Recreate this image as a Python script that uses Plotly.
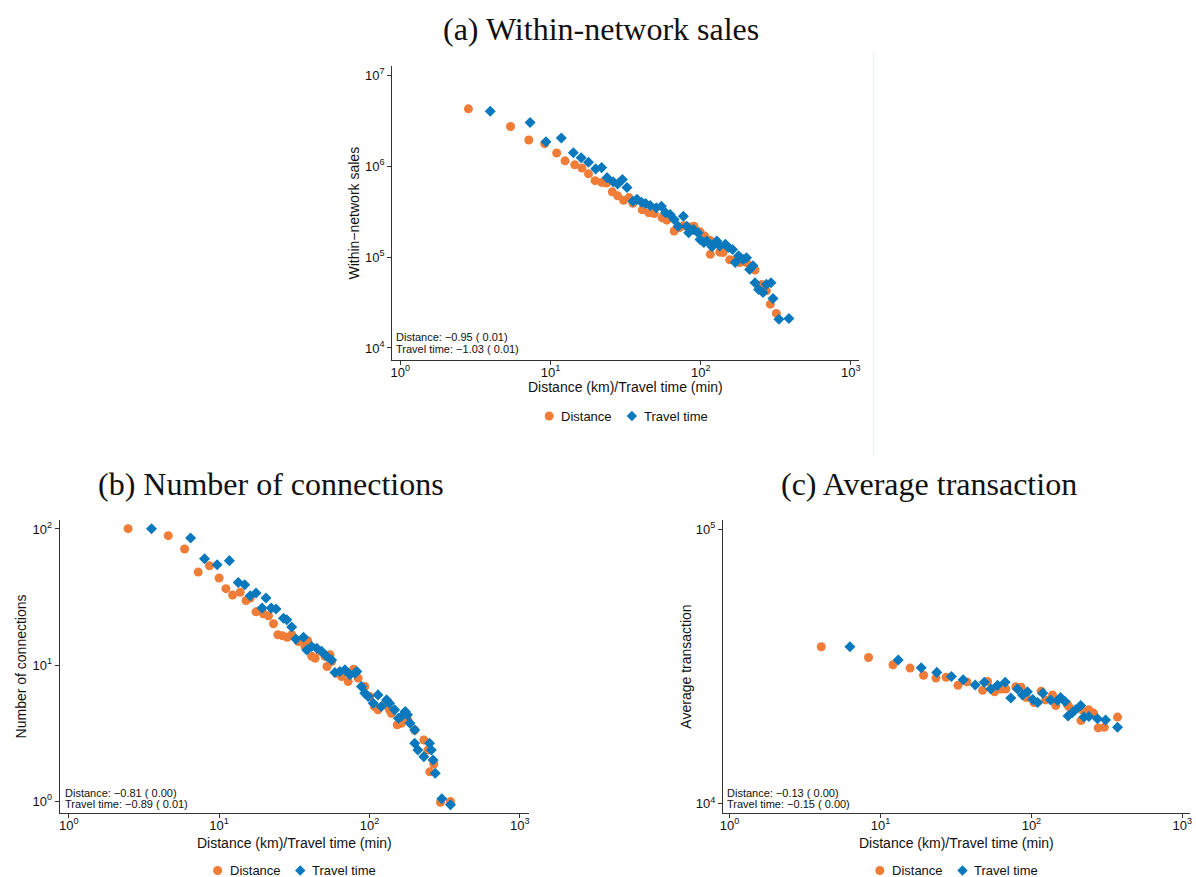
import plotly.graph_objects as go

W, H = 1196, 877

ORANGE = "#EF7D38"
BLUE = "#0A78BC"
AXIS = "#333333"

# (a) Within-network sales
sales_dist_km = [2.84, 5.42, 7.17, 9.15, 11.0, 12.5, 14.5, 16.2, 17.9, 19.8, 21.9, 23.6, 25.8, 28.0,
                 30.7, 33.3, 35.4, 40.8, 45.2, 49.1, 55.4, 59.5, 66.6, 72.2, 76.7, 85.0, 90.3, 99.0,
                 106, 115, 116, 134, 141, 156, 171, 182, 202, 230, 255, 274, 291, 319]
sales_dist_val = [4.25e6, 2.72e6, 1.93e6, 1.76e6, 1.39e6, 1.14e6, 1.03e6, 9.5e5, 8.2e5, 6.9e5, 6.6e5,
                  6.5e5, 5.2e5, 4.7e5, 4.2e5, 4.5e5, 3.9e5, 3.3e5, 3.06e5, 3.0e5, 2.7e5, 2.54e5,
                  1.93e5, 2.1e5, 2.2e5, 2.13e5, 2.18e5, 1.89e5, 1.70e5, 1.53e5, 1.07e5, 1.13e5,
                  1.12e5, 9.3e4, 9.4e4, 8.7e4, 8.7e4, 7.2e4, 5.0e4, 4.25e4, 3.03e4, 2.4e4]
sales_time_min = [3.97, 7.31, 9.33, 11.8, 14.2, 16.0, 17.9, 20.0, 21.9, 23.8, 26.1, 28.0, 30.1, 32.3,
                  35.4, 37.6, 40.4, 43.0, 46.1, 50.6, 54.8, 58.3, 62.6, 66.6, 70.8, 76.7, 80.7, 83.2,
                  89.4, 96.0, 99.0, 105, 110, 119, 128, 134, 146, 153, 163, 170, 179, 192, 202, 212,
                  223, 230, 243, 260, 274, 294, 303, 332, 387]
sales_time_val = [4.0e6, 3.0e6, 1.85e6, 2.03e6, 1.40e6, 1.23e6, 1.10e6, 9.3e5, 9.6e5, 7.45e5, 6.7e5,
                  6.35e5, 7.1e5, 5.8e5, 4.1e5, 4.3e5, 4.0e5, 3.87e5, 3.68e5, 3.47e5, 3.62e5, 3.06e5,
                  2.93e5, 2.58e5, 2.18e5, 2.81e5, 2.18e5, 1.85e5, 2.01e5, 1.85e5, 1.56e5, 1.44e5,
                  1.50e5, 1.30e5, 1.50e5, 1.32e5, 1.38e5, 1.27e5, 1.21e5, 8.7e4, 1.03e5, 9.4e4,
                  9.8e4, 7.3e4, 8.0e4, 5.2e4, 4.4e4, 4.07e4, 5.0e4, 5.2e4, 3.5e4, 2.07e4, 2.11e4]

# (b) Number of connections
conn_dist_km = [2.48, 4.59, 5.89, 7.26, 8.63, 10.0, 11.1, 12.3, 13.8, 15.1, 16.1, 17.6, 19.7, 21.3,
                23.0, 24.6, 26.4, 28.4, 30.4, 33.7, 37.3, 38.8, 41.3, 43.5, 46.9, 50.6, 54.6, 56.0,
                52.2, 60.4, 65.3, 72.2, 78.4, 84.1, 93.1, 100.5, 108, 114, 126, 136, 140, 153, 163,
                180, 200, 230, 245, 252, 268, 297, 346]
conn_dist_val = [100.5, 89.3, 71.2, 48.2, 53.7, 43.6, 36.4, 32.7, 34.2, 29.8, 31.1, 24.6, 23.8, 23.0,
                 20.1, 16.7, 16.4, 16.0, 16.7, 14.9, 13.7, 15.1, 11.6, 11.2, 12.6, 11.6, 11.9, 10.6,
                 9.75, 8.71, 8.23, 7.56, 9.31, 8.0, 6.95, 5.87, 4.95, 4.68, 5.09, 4.68, 4.42, 3.63,
                 3.73, 3.95, 3.33, 2.81, 2.37, 1.64, 1.87, 0.98, 0.99]
conn_time_min = [3.55, 6.46, 8.0, 9.70, 11.7, 13.4, 14.8, 16.1, 17.6, 19.3, 20.5, 22.2, 23.9, 26.8,
                 28.2, 30.4, 32.4, 36.4, 38.3, 41.3, 44.6, 48.1, 51.9, 56.0, 58.9, 63.6, 68.7, 74.1,
                 80.0, 82.4, 88.5, 93.1, 98.0, 106, 114, 120, 130, 136, 147, 156, 163, 173, 179, 186,
                 200, 200, 210, 230, 251, 258, 265, 274, 303, 346]
conn_time_val = [100.5, 85.9, 60.5, 54.6, 58.5, 40.4, 38.9, 32.3, 33.8, 26.2, 31.1, 26.2, 25.8, 22.1,
                 21.5, 19.0, 15.5, 16.0, 12.9, 13.7, 13.3, 12.6, 11.6, 10.9, 8.81, 8.96, 9.21, 8.47,
                 8.71, 8.96, 6.95, 6.21, 5.87, 5.23, 6.03, 4.95, 5.54, 5.23, 4.68, 4.06, 4.18, 4.55,
                 4.30, 3.73, 3.33, 2.66, 2.37, 2.12, 2.66, 2.37, 2.0, 1.60, 1.04, 0.94]

# (c) Average transaction
avg_dist_km = [4.05, 8.33, 12.1, 15.7, 19.3, 23.3, 27.2, 32.6, 37.4, 47.5, 51.2, 57.0, 62.7, 67.6,
               78.8, 85.5, 92.7, 104, 116, 124, 138, 145, 173, 177, 213, 217, 240, 258, 277, 304, 372]
avg_dist_val = [3.73e4, 3.41e4, 3.21e4, 3.12e4, 2.94e4, 2.87e4, 2.89e4, 2.70e4, 2.78e4, 2.59e4,
                2.79e4, 2.56e4, 2.62e4, 2.62e4, 2.67e4, 2.66e4, 2.44e4, 2.34e4, 2.57e4, 2.39e4,
                2.49e4, 2.28e4, 2.30e4, 2.26e4, 2.01e4, 2.20e4, 2.20e4, 2.14e4, 1.89e4, 1.90e4, 2.07e4]
avg_time_min = [6.27, 13.1, 18.6, 23.6, 29.5, 35.3, 42.4, 48.7, 53.8, 59.6, 67.0, 73.0, 80.8, 87.3,
                94.1, 102, 110, 119, 134, 149, 156, 167, 175, 187, 196, 212, 223, 240, 274, 310, 372]
avg_time_val = [3.73e4, 3.34e4, 3.13e4, 3.01e4, 2.91e4, 2.83e4, 2.71e4, 2.77e4, 2.62e4, 2.70e4,
                2.77e4, 2.43e4, 2.62e4, 2.49e4, 2.56e4, 2.40e4, 2.34e4, 2.53e4, 2.39e4, 2.38e4,
                2.44e4, 2.36e4, 2.09e4, 2.15e4, 2.20e4, 2.28e4, 2.07e4, 2.08e4, 2.04e4, 2.02e4, 1.90e4]

series_names = ["Distance", "Travel time"]
panel_titles = ["(a) Within-network sales", "(b) Number of connections", "(c) Average transaction"]
y_titles = ["Within\u2212network sales", "Number of connections", "Average transaction"]
x_title = "Distance (km)/Travel time (min)"
slope_text = [
    ("Distance: \u22120.95 ( 0.01)", "Travel time: \u22121.03 ( 0.01)"),
    ("Distance: \u22120.81 ( 0.00)", "Travel time: \u22120.89 ( 0.01)"),
    ("Distance: \u22120.13 ( 0.00)", "Travel time: \u22120.15 ( 0.00)"),
]
x_tick_vals = [1, 10, 100, 1000]
x_tick_text = ["10<sup>0</sup>", "10<sup>1</sup>", "10<sup>2</sup>", "10<sup>3</sup>"]
y_tick_exps = [[4, 5, 6, 7], [0, 1, 2], [4, 5]]

# panel geometry in pixels: left, right, top, bottom of the axes box
boxes = [(391, 860, 66, 360), (57, 528, 520, 813), (723, 1192, 520, 813)]
x_ranges = [(-0.053, 3.057), (-0.06, 3.06), (-0.044, 3.051)]
y_ranges = [(3.868, 7.099), (-0.088, 2.066), (3.967, 5.033)]
title_pos = [(601, 29), (269, 484), (930, 484)]
ytitle_x = [352, 18, 685]
xtitle_y = [387, 843, 843]
legend_y = [416, 870.5, 870.5]
note_x = [394, 61, 726]
note_y = [(337, 349), (793, 804), (793, 804)]

data = [
    (sales_dist_km, sales_dist_val, sales_time_min, sales_time_val),
    (conn_dist_km, conn_dist_val, conn_time_min, conn_time_val),
    (avg_dist_km, avg_dist_val, avg_time_min, avg_time_val),
]

fig = go.Figure()
annotations = []
shapes = []
layout = dict(
    width=W, height=H,
    margin=dict(l=0, r=0, t=0, b=0),
    paper_bgcolor="white", plot_bgcolor="white",
    font=dict(family="Liberation Sans, Arial, sans-serif", color="#111111"),
    showlegend=False,
)


def px_x(v):
    return v / W


def px_y(v):
    return 1 - v / H


for i in range(3):
    sfx = "" if i == 0 else str(i + 1)
    xd, yd, xt, yt = data[i]
    fig.add_trace(go.Scatter(
        x=xd, y=yd, mode="markers", name=series_names[0],
        marker=dict(symbol="circle", size=9, color=ORANGE),
        xaxis="x" + sfx, yaxis="y" + sfx,
    ))
    fig.add_trace(go.Scatter(
        x=xt, y=yt, mode="markers", name=series_names[1],
        marker=dict(symbol="diamond", size=8.5, color=BLUE),
        xaxis="x" + sfx, yaxis="y" + sfx,
    ))

    l, r, t, b = boxes[i]
    common = dict(
        type="log", showgrid=False, zeroline=False, showline=True,
        linecolor=AXIS, linewidth=1.3, ticks="outside", ticklen=4,
        tickcolor=AXIS, tickwidth=1.2, tickfont=dict(size=13, color="#111111"),
        mirror=False,
    )
    layout["xaxis" + sfx] = dict(
        common, domain=[px_x(l), px_x(r)], range=list(x_ranges[i]),
        anchor="y" + sfx, tickvals=x_tick_vals, ticktext=x_tick_text,
        ticklabelstandoff=-4,
    )
    exps = y_tick_exps[i]
    layout["yaxis" + sfx] = dict(
        common, domain=[px_y(b), px_y(t)], range=list(y_ranges[i]),
        anchor="x" + sfx, tickvals=[10 ** e for e in exps],
        ticktext=["10<sup>%d</sup>" % e for e in exps],
    )

    cx = (l + r) / 2

    # legend key below each panel: dot + label, diamond + label
    ly = legend_y[i]
    dot_cx, dot_r = cx - 77, 4.5
    shapes.append(dict(
        type="circle", xref="paper", yref="paper",
        x0=px_x(dot_cx - dot_r), x1=px_x(dot_cx + dot_r),
        y0=px_y(ly + dot_r), y1=px_y(ly - dot_r),
        fillcolor=ORANGE, line=dict(width=0),
    ))
    dia_cx, dia_r = cx + 6, 5.2
    shapes.append(dict(
        type="path", xref="paper", yref="paper",
        path="M %f %f L %f %f L %f %f L %f %f Z" % (
            px_x(dia_cx), px_y(ly - dia_r), px_x(dia_cx + dia_r), px_y(ly),
            px_x(dia_cx), px_y(ly + dia_r), px_x(dia_cx - dia_r), px_y(ly)),
        fillcolor=BLUE, line=dict(width=0),
    ))
    for name, x0 in zip(series_names, (cx - 66, cx + 17)):
        annotations.append(dict(
            text=name, x=px_x(x0), y=px_y(ly), xref="paper", yref="paper",
            xanchor="left", yanchor="middle", showarrow=False, borderpad=0,
            font=dict(size=13, color="#111111"),
        ))

    tx, ty = title_pos[i]
    annotations.append(dict(
        text=panel_titles[i], x=px_x(tx), y=px_y(ty), xref="paper", yref="paper",
        xanchor="center", yanchor="middle", showarrow=False,
        font=dict(family="Liberation Serif, Times New Roman, serif", size=32, color="#111111"),
    ))
    annotations.append(dict(
        text=y_titles[i], x=px_x(ytitle_x[i]), y=px_y((t + b) / 2), xref="paper", yref="paper",
        xanchor="center", yanchor="middle", showarrow=False, textangle=-90,
        font=dict(size=14, color="#111111"),
    ))
    annotations.append(dict(
        text=x_title, x=px_x(cx), y=px_y(xtitle_y[i]), xref="paper", yref="paper",
        xanchor="center", yanchor="middle", showarrow=False,
        font=dict(size=14, color="#111111"),
    ))
    for line, yy in zip(slope_text[i], note_y[i]):
        annotations.append(dict(
            text=line, x=px_x(note_x[i]), y=px_y(yy), xref="paper", yref="paper",
            xanchor="left", yanchor="middle", showarrow=False, borderpad=0,
            font=dict(size=11, color="#111111"),
        ))

# faint right border of the top graph region
shapes.append(dict(
    type="line", xref="paper", yref="paper",
    x0=px_x(874), x1=px_x(874), y0=px_y(52), y1=px_y(455),
    line=dict(color="#E6EEF0", width=1),
))
layout["annotations"] = annotations
layout["shapes"] = shapes

fig.update_layout(**layout)
fig.write_html("out.html")
